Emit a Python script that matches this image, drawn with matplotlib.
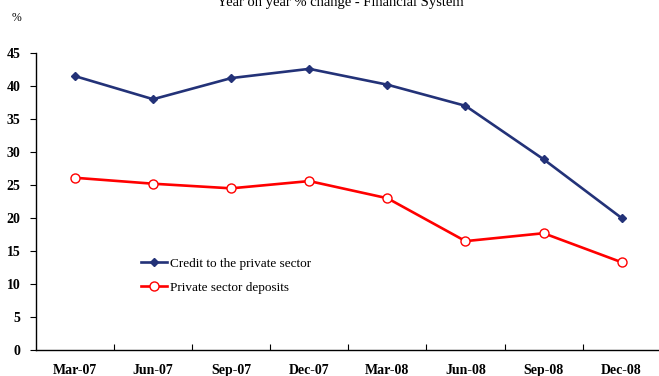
import matplotlib
matplotlib.use("Agg")
import matplotlib.pyplot as plt
import numpy as np

quarters = ["Mar-07", "Jun-07", "Sep-07", "Dec-07", "Mar-08", "Jun-08", "Sep-08", "Dec-08"]
credit_private = [41.5, 38.0, 41.2, 42.6, 40.2, 37.0, 28.9, 20.0]
deposits_private = [26.1, 25.2, 24.5, 25.6, 23.0, 16.5, 17.7, 13.3]
y_ticks = [0, 5, 10, 15, 20, 25, 30, 35, 40, 45]

plt.rcParams["font.family"] = ["Liberation Serif", "DejaVu Serif"]

fig = plt.figure(figsize=(6.59, 3.76), dpi=100)
ax = fig.add_axes([0.0546, 0.069, 0.948, 0.79])

x = np.arange(len(quarters))
ax.plot(x, credit_private, color="#233278", lw=1.9, marker="D", ms=4.5,
        mfc="#233278", mec="#233278", label="Credit to the private sector")
ax.plot(x, deposits_private, color="#FF0000", lw=1.9, marker="o", ms=6.5,
        mfc="white", mec="#FF0000", mew=1.0, label="Private sector deposits")

ax.set_xlim(-0.5, len(quarters) - 0.5)
ax.set_ylim(0, 45)
ax.set_yticks(y_ticks)
ax.set_yticklabels([str(v) for v in y_ticks], fontweight="bold", fontsize=10)

# category labels centred, tick marks between categories
ax.set_xticks(x)
ax.set_xticklabels(quarters, fontweight="bold", fontsize=10)
ax.tick_params(axis="x", which="major", length=0, pad=10)
ax.set_xticks(np.arange(0.5, len(quarters) - 0.5, 1.0), minor=True)
ax.tick_params(axis="x", which="minor", direction="in", length=4, width=0.8)
ax.tick_params(axis="y", direction="out", length=4, width=0.8, pad=7)

for side in ("top", "right"):
    ax.spines[side].set_visible(False)
for side in ("left", "bottom"):
    ax.spines[side].set_linewidth(1.0)

ax.legend(loc="upper left", bbox_to_anchor=(0.157, 0.333), frameon=False,
          fontsize=9.5, handlelength=2.0, handletextpad=0.2, labelspacing=0.9,
          borderpad=0)

fig.text(0.516, 0.993, "Year on year % change - Financial System", ha="center", va="center",
         fontsize=10.5)
fig.text(0.018, 0.952, "%", ha="left", va="center", fontsize=8.5)

fig.savefig("out.png", dpi=100)
